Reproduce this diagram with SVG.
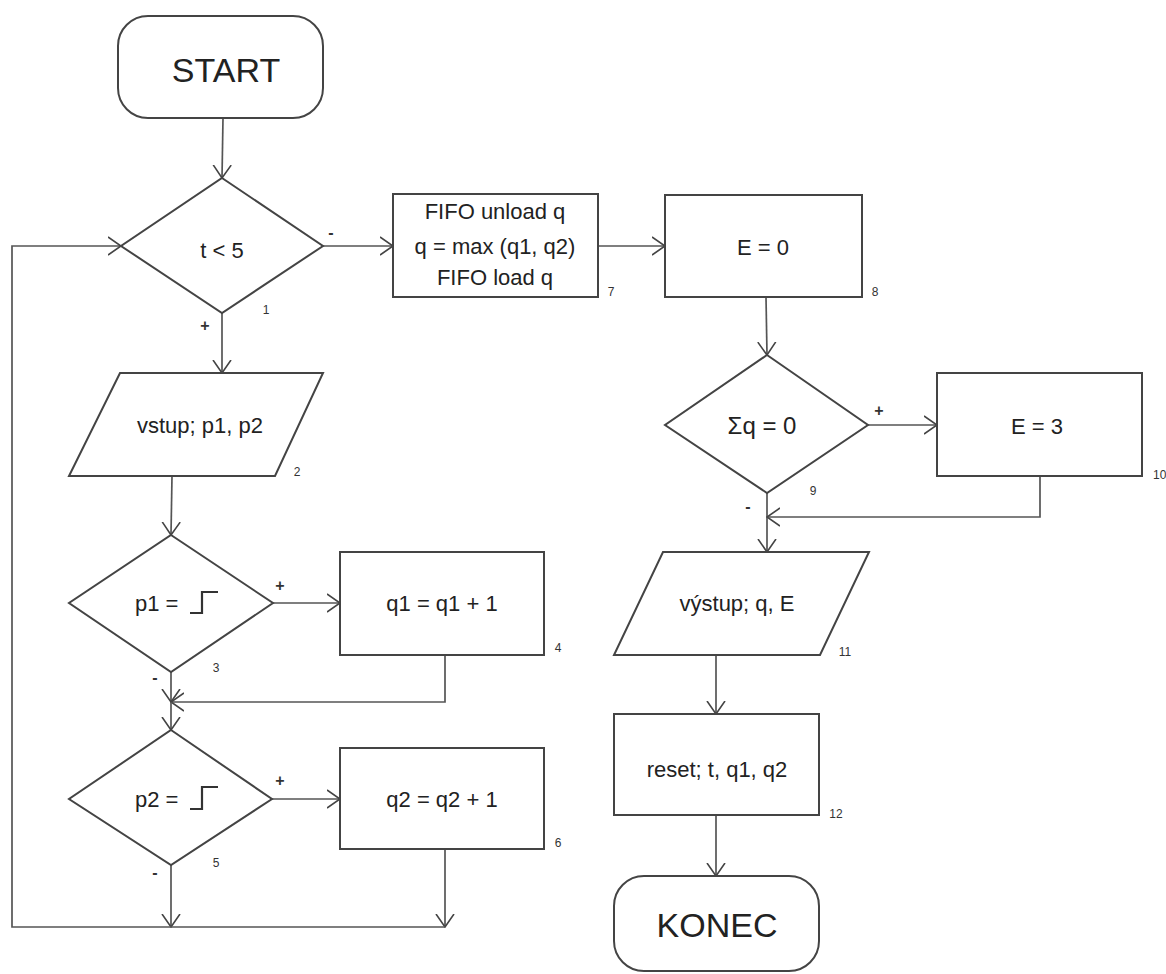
<svg xmlns="http://www.w3.org/2000/svg" width="1166" height="974" viewBox="0 0 1166 974">
<defs>
<marker id="arr" viewBox="0 0 14 20" refX="13" refY="10" markerWidth="14" markerHeight="20" markerUnits="userSpaceOnUse" orient="auto">
<path d="M0,1 L13,10 L0,19" fill="none" stroke="#444" stroke-width="1.6"/>
</marker>
<style>
.s{fill:#fff;stroke:#444;stroke-width:2}
.c{fill:none;stroke:#555;stroke-width:1.7}
.t{font-family:"Liberation Sans",Arial,sans-serif;font-size:22px;fill:#222;text-anchor:middle}
.big{font-family:"Liberation Sans",Arial,sans-serif;font-size:34px;fill:#222;text-anchor:middle}
.n{font-family:"Liberation Sans",Arial,sans-serif;font-size:12px;fill:#333;text-anchor:middle}
.pm{font-family:"Liberation Sans",Arial,sans-serif;font-size:16px;font-weight:bold;fill:#333;text-anchor:middle}
</style>
</defs>
<rect width="1166" height="974" fill="#fff"/>

<g id="connectors">
<path class="c" d="M223,118 L222,178" marker-end="url(#arr)"/>
<path class="c" d="M323,246 L393,246" marker-end="url(#arr)"/>
<path class="c" d="M598,246 L665,246" marker-end="url(#arr)"/>
<path class="c" d="M766,297 L767,355" marker-end="url(#arr)"/>
<path class="c" d="M222,313 L222,373" marker-end="url(#arr)"/>
<path class="c" d="M172,476 L171,535" marker-end="url(#arr)"/>
<path class="c" d="M273,603 L340,603" marker-end="url(#arr)"/>
<path class="c" d="M171,672 L171,702" marker-end="url(#arr)"/>
<path class="c" d="M445,655 L445,702 L171,702" marker-end="url(#arr)"/>
<path class="c" d="M171,702 L171,730" marker-end="url(#arr)"/>
<path class="c" d="M272,799 L340,799" marker-end="url(#arr)"/>
<path class="c" d="M171,865 L171,927" marker-end="url(#arr)"/>
<path class="c" d="M445,849 L445,927" marker-end="url(#arr)"/>
<path class="c" d="M445,927 L12,927 L12,246 L121,246" marker-end="url(#arr)"/>
<path class="c" d="M868,425 L937,425" marker-end="url(#arr)"/>
<path class="c" d="M767,493 L767,552" marker-end="url(#arr)"/>
<path class="c" d="M1040,476 L1040,517 L767,517" marker-end="url(#arr)"/>
<path class="c" d="M716,655 L716,714" marker-end="url(#arr)"/>
<path class="c" d="M716,815 L716,876" marker-end="url(#arr)"/>
<text class="pm" x="205" y="331">+</text>
<text class="pm" x="331" y="238">-</text>
<text class="pm" x="879" y="416">+</text>
<text class="pm" x="748" y="512">-</text>
<text class="pm" x="280" y="591">+</text>
<text class="pm" x="155" y="683">-</text>
<text class="pm" x="280" y="786">+</text>
<text class="pm" x="155" y="878">-</text>
</g>

<g id="start">
<rect class="s" x="118" y="16" width="205" height="102" rx="30"/>
<text class="big" x="226" y="82">START</text>
</g>

<g id="n1">
<polygon class="s" points="222,178 323,246 222,313 121,246"/>
<text class="t" x="222" y="258">t &lt; 5</text>
<text class="n" x="266" y="314">1</text>
</g>

<g id="n2">
<polygon class="s" points="120,373 323,373 275,476 69,476"/>
<text class="t" x="200" y="433">vstup; p1, p2</text>
<text class="n" x="297" y="476">2</text>
</g>

<g id="n3">
<polygon class="s" points="171,535 273,603 171,672 69,603"/>
<text class="t" x="135" y="611" style="text-anchor:start">p1 =</text>
<polyline points="190,613 202,613 202,592 218,592" fill="none" stroke="#333" stroke-width="2.2"/>
<text class="n" x="216" y="672">3</text>
</g>

<g id="n4">
<rect class="s" x="340" y="552" width="204" height="103"/>
<text class="t" x="442" y="611">q1 = q1 + 1</text>
<text class="n" x="558" y="652">4</text>
</g>

<g id="n5">
<polygon class="s" points="171,730 272,799 171,865 69,799"/>
<text class="t" x="135" y="807" style="text-anchor:start">p2 =</text>
<polyline points="190,809 202,809 202,787 218,787" fill="none" stroke="#333" stroke-width="2.2"/>
<text class="n" x="216" y="867">5</text>
</g>

<g id="n6">
<rect class="s" x="340" y="748" width="204" height="101"/>
<text class="t" x="442" y="807">q2 = q2 + 1</text>
<text class="n" x="558" y="847">6</text>
</g>

<g id="n7">
<rect class="s" x="393" y="194" width="205" height="103"/>
<text class="t" x="495" y="219">FIFO unload q</text>
<text class="t" x="495" y="254">q = max (q1, q2)</text>
<text class="t" x="495" y="285">FIFO load q</text>
<text class="n" x="611" y="296">7</text>
</g>

<g id="n8">
<rect class="s" x="665" y="195" width="197" height="102"/>
<text class="t" x="763" y="255">E = 0</text>
<text class="n" x="875" y="296">8</text>
</g>

<g id="n9">
<polygon class="s" points="767,355 868,425 767,493 665,425"/>
<text class="t" x="762" y="434" style="font-size:24px">Σq = 0</text>
<text class="n" x="813" y="495">9</text>
</g>

<g id="n10">
<rect class="s" x="937" y="373" width="205" height="103"/>
<text class="t" x="1037" y="434">E = 3</text>
<text class="n" x="1153" y="479" style="text-anchor:start">10</text>
</g>

<g id="n11">
<polygon class="s" points="663,552 869,552 820,655 614,655"/>
<text class="t" x="737" y="611">výstup; q, E</text>
<text class="n" x="845" y="656">11</text>
</g>

<g id="n12">
<rect class="s" x="614" y="714" width="205" height="101"/>
<text class="t" x="717" y="777">reset; t, q1, q2</text>
<text class="n" x="836" y="818">12</text>
</g>

<g id="end">
<rect class="s" x="614" y="876" width="205" height="95" rx="30"/>
<text class="big" x="717" y="937">KONEC</text>
</g>
</svg>
